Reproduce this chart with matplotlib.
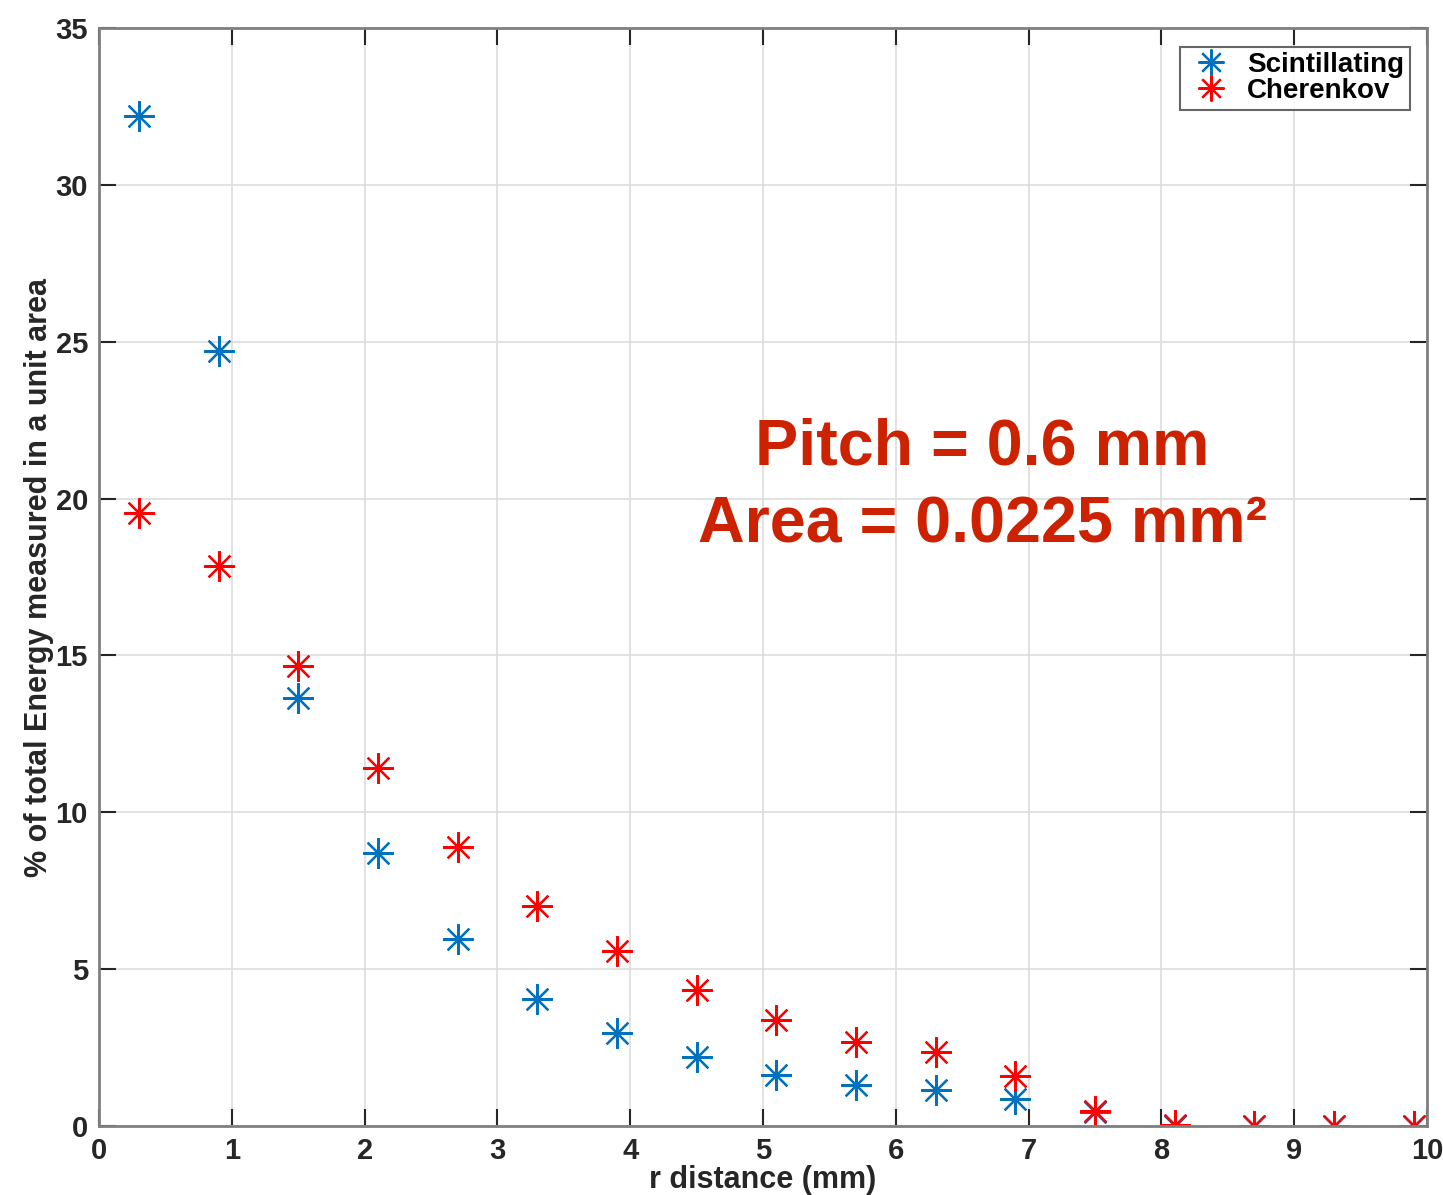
import matplotlib.pyplot as plt

# ---------------------- DATA ----------------------
r_mm = [0.3, 0.9, 1.5, 2.1, 2.7, 3.3, 3.9, 4.5, 5.1, 5.7, 6.3, 6.9, 7.5, 8.1, 8.7, 9.3, 9.9]
scint = [32.2, 24.7, 13.65, 8.7, 5.97, 4.05, 2.97, 2.2, 1.64, 1.31, 1.15, 0.86, 0.45, 0.0, 0.0, 0.0, 0.0]
cheren = [19.55, 17.85, 14.65, 11.42, 8.9, 7.0, 5.58, 4.34, 3.38, 2.69, 2.36, 1.6, 0.47, 0.02, 0.0, 0.0, 0.0]

x_ticks = list(range(0, 11))
y_ticks = [0, 5, 10, 15, 20, 25, 30, 35]

plt.rcParams['font.family'] = ['Liberation Sans', 'DejaVu Sans']
plt.rcParams['font.weight'] = 'bold'

fig = plt.figure(figsize=(14.43, 11.95), dpi=100)
ax = fig.add_axes([0.0686, 0.0577, 0.9203, 0.9189])

star = (8, 2, 0)
ax.plot(r_mm, scint, linestyle='none', marker=star, markersize=22, markeredgewidth=1.6,
        color='#0072BD', label='Scintillating')
ax.plot(r_mm, cheren, linestyle='none', marker=star, markersize=22, markeredgewidth=1.6,
        color='#FF0000', label='Cherenkov')

ax.set_xlim(0, 10)
ax.set_ylim(0, 35)
ax.set_xticks(x_ticks)
ax.set_yticks(y_ticks)
ax.grid(True, color='#dddddd', linewidth=1.2)
ax.set_axisbelow(True)
ax.tick_params(direction='in', length=12, width=1.5, top=True, right=True,
               labelsize=21, colors='#262626', pad=8)
for s in ax.spines.values():
    s.set_color('#808080')
    s.set_linewidth(2)

ax.set_xlabel('r distance (mm)', fontsize=22, fontweight='bold', color='#262626', labelpad=0)
ax.set_ylabel('% of total Energy measured in a unit area', fontsize=22, fontweight='bold',
              color='#262626', labelpad=1)

ax.text(0.665, 0.618, 'Pitch = 0.6 mm', transform=ax.transAxes, ha='center', va='center',
        fontsize=46.5, fontweight='bold', color='#CC2200')
ax.text(0.665, 0.547, 'Area = 0.0225 mm²', transform=ax.transAxes, ha='center', va='center',
        fontsize=46.5, fontweight='bold', color='#CC2200')

leg = ax.legend(loc='upper right', fontsize=20, frameon=True, fancybox=False,
                borderpad=0.2, labelspacing=0.0, handletextpad=0.4, handlelength=1.8,
                markerscale=0.85, bbox_to_anchor=(0.987, 0.983), borderaxespad=0)
leg.get_frame().set_edgecolor('#404040')
leg.get_frame().set_linewidth(1.5)

fig.savefig('out.png', dpi=100)
